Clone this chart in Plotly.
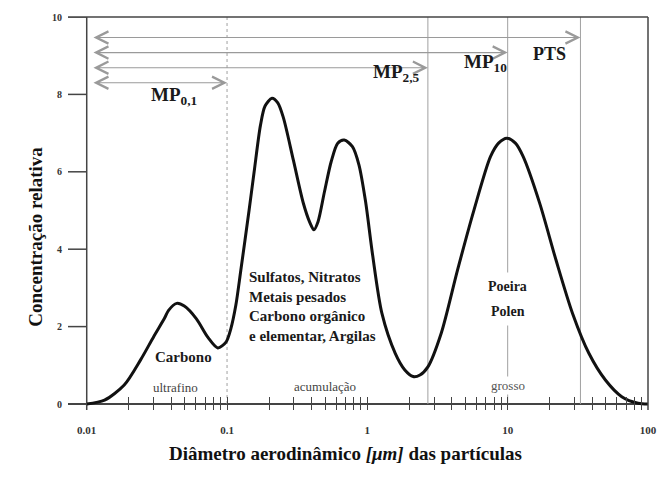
import numpy as np
import plotly.graph_objects as go

# curva de distribuicao (diametro em um, concentracao relativa)
diametro = [0.01, 0.0134, 0.0185, 0.0242, 0.030, 0.0359, 0.0383, 0.0438, 0.0496,
            0.0605, 0.0731, 0.0859, 0.0983, 0.1065, 0.1155, 0.1253, 0.1435, 0.156,
            0.173, 0.1866, 0.209, 0.230, 0.252, 0.297, 0.349, 0.388, 0.416, 0.445,
            0.495, 0.552, 0.615, 0.684, 0.783, 0.871, 0.971, 1.09, 1.27, 1.58, 1.85,
            2.12, 2.37, 2.70, 3.36, 4.39, 5.75, 7.54, 8.61, 9.86, 11.35, 12.9, 16.9,
            22.1, 29.0, 37.9, 49.7, 65.0, 85.0, 100.0]
concentracao = [0.0, 0.10, 0.49, 1.14, 1.74, 2.22, 2.42, 2.6, 2.53,
                2.2, 1.72, 1.45, 1.6, 1.95, 2.55, 3.45, 5.0, 6.0,
                7.2, 7.7, 7.9, 7.78, 7.4, 6.3, 5.2, 4.7, 4.5, 4.71,
                5.49, 6.26, 6.74, 6.82, 6.65, 6.18, 5.23, 3.85, 2.34, 1.31, 0.88,
                0.71, 0.75, 0.96, 1.83, 3.46, 5.01, 6.39, 6.74, 6.87, 6.74, 6.39, 5.19,
                3.72, 2.34, 1.31, 0.62, 0.19, 0.02, 0.0]

# limites das fracoes
limites = [0.1, 2.7, 10, 33]
limite_dash = ["dot", "solid", "solid", "solid"]

# setas
seta_nome = ["PTS", "MP10", "MP2,5", "MP0,1"]
seta_fim = [33, 10, 2.7, 0.1]
seta_y = [9.47, 9.08, 8.69, 8.30]
seta_inicio = 0.0109

tick_vals = [0.01, 0.1, 1, 10, 100]
tick_text = ["0.01", "0.1", "1", "10", "100"]
y_ticks = [0, 2, 4, 6, 8, 10]

SERIF = "Times New Roman, Liberation Serif, DejaVu Serif, serif"
GRAY = "#9a9a9a"
AXIS = "#444444"
Y_RANGE = [-0.155, 10]
X_LEFT = -2 - 19 / 142.4   # espaco a esquerda do eixo y para os ticks
X0 = tick_vals[0]

# ticks do eixo x: 1..9 de cada decada, rotulo so nas decadas
x_ticks, x_ticktext = [], []
for v, t in zip(tick_vals[:-1], tick_text[:-1]):
    for m in range(1, 10):
        x_ticks.append(v * m)
        x_ticktext.append(t if m == 1 else "")
x_ticks.append(tick_vals[-1])
x_ticktext.append(tick_text[-1])

fig = go.Figure()

for v, d in zip(limites, limite_dash):
    fig.add_trace(go.Scatter(x=[v, v], y=[0, 10], mode="lines",
                             line=dict(color="#a0a0a0", width=1, dash=d),
                             hoverinfo="skip", showlegend=False))

# eixo y e seus ticks (para fora)
fig.add_trace(go.Scatter(x=[X0, X0], y=Y_RANGE, mode="lines",
                         line=dict(color=AXIS, width=1.5), hoverinfo="skip", showlegend=False))
tx, ty = [], []
for yt in y_ticks:
    tx += [10 ** X_LEFT, X0, None]
    ty += [yt, yt, None]
fig.add_trace(go.Scatter(x=tx, y=ty, mode="lines", line=dict(color=AXIS, width=1.5),
                         hoverinfo="skip", showlegend=False))

fig.add_trace(go.Scatter(x=diametro, y=concentracao, mode="lines",
                         line=dict(color="#111111", width=3, shape="spline", smoothing=0.8),
                         showlegend=False))

for fim, y in zip(seta_fim, seta_y):
    fig.add_annotation(x=np.log10(fim), y=y, ax=np.log10(seta_inicio), ay=y,
                       xref="x", yref="y", axref="x", ayref="y", text="",
                       showarrow=True, arrowside="end+start", arrowhead=5, startarrowhead=5,
                       arrowsize=2.2, startarrowsize=2.2, arrowwidth=1.1, arrowcolor=GRAY,
                       standoff=0, startstandoff=0)

def label(txt, x, y, size, bold=True, color="#1a1a1a", bg=None, align="center",
          xanchor="center", pad=1):
    fig.add_annotation(x=np.log10(x), y=y, xref="x", yref="y", text=txt, showarrow=False,
                       font=dict(family=SERIF, size=size, color=color), align=align,
                       xanchor=xanchor, bgcolor=bg, borderpad=pad)

label("<b>MP<sub>0,1</sub></b>", 0.042, 7.95, 19)
label("<b>MP<sub>2,5</sub></b>", 1.6, 8.55, 19)
label("<b>MP<sub>10</sub></b>", 7.0, 8.8, 19)
label("<b>PTS</b>", 19.9, 9.05, 18)
label("<b>Carbono</b>", 0.049, 1.22, 15)
label("ultrafino", 0.043, 0.42, 13, bold=False, color="#444444")
label("<b>Sulfatos, Nitratos<br>Metais pesados<br>Carbono orgânico<br>e elementar, Argilas</b>",
      0.139, 2.51, 15, align="left", xanchor="left")
label("acumulação", 0.50, 0.45, 13, bold=False, color="#444444", bg="white")
label("<b>Poeira</b>", 10, 3.03, 14, bg="white", pad=6)
label("<b>Polen</b>", 10, 2.38, 14, bg="white", pad=6)
label("grosso", 10, 0.48, 13, bold=False, color="#555555", bg="white")

fig.add_annotation(x=0.479, y=-0.1425, xref="paper", yref="paper", showarrow=False,
                   text="<b>Diâmetro aerodinâmico <i>[μm]</i> das partículas</b>",
                   font=dict(family=SERIF, size=19, color="#111111"))
fig.add_annotation(x=-0.079, y=0.44, xref="paper", yref="paper", showarrow=False, textangle=-90,
                   text="<b>Concentração relativa</b>",
                   font=dict(family=SERIF, size=19, color="#111111"))

# moldura superior e direita
fig.add_shape(type="line", xref="paper", yref="paper", x0=0, x1=1, y0=1, y1=1,
              line=dict(color=AXIS, width=1.5))
fig.add_shape(type="line", xref="paper", yref="paper", x0=1, x1=1, y0=0, y1=1,
              line=dict(color=AXIS, width=1.5))

fig.update_layout(
    width=668, height=484,
    margin=dict(l=68, r=11, t=17, b=74),
    paper_bgcolor="white", plot_bgcolor="white",
    xaxis=dict(type="log", range=[X_LEFT, 2], showgrid=False, zeroline=False, showline=False,
               tickmode="array", tickvals=x_ticks, ticktext=x_ticktext, ticks="inside",
               ticklen=13, tickcolor=AXIS, tickwidth=1.3,
               tickfont=dict(family=SERIF, size=11, color="#333333", weight="bold"),
               ticklabelstandoff=12),
    yaxis=dict(range=Y_RANGE, tickmode="array", tickvals=y_ticks,
               showgrid=False, zeroline=True, zerolinecolor=AXIS, zerolinewidth=1.5,
               showline=False, ticks="", ticklabelstandoff=5,
               tickfont=dict(family=SERIF, size=10, color="#333333", weight="bold")),
    font=dict(family=SERIF),
)

fig.write_html("out.html", config={"displayModeBar": False},
               post_script="document.body.style.margin='0px';")
